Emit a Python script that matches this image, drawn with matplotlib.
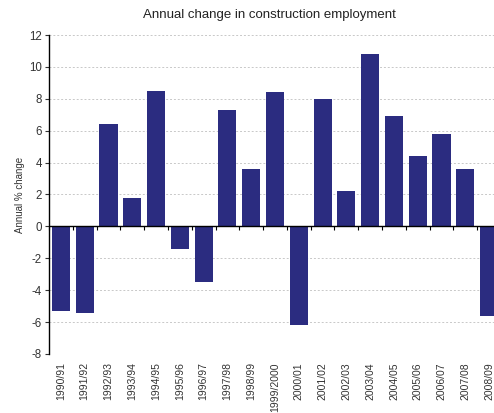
import numpy as np
import matplotlib.pyplot as plt

plt.rcParams['font.family'] = ['Liberation Sans', 'DejaVu Sans']
plt.rcParams['axes.unicode_minus'] = False

# Data
years = ['1990/91', '1991/92', '1992/93', '1993/94', '1994/95', '1995/96', '1996/97',
         '1997/98', '1998/99', '1999/2000', '2000/01', '2001/02', '2002/03', '2003/04',
         '2004/05', '2005/06', '2006/07', '2007/08', '2008/09']
change = [-5.3, -5.4, 6.4, 1.8, 8.5, -1.4, -3.5, 7.3, 3.6, 8.4, -6.2, 8.0, 2.2, 10.8,
          6.9, 4.4, 5.8, 3.6, -5.6]

bar_color = '#2B2C80'
text_color = '#333333'

fig = plt.figure(figsize=(4.94, 4.13), dpi=100)
# axes run past the right edge like the original screenshot
ax = fig.add_axes([49 / 494, 1 - 354 / 413, 452 / 494, 319 / 413])

x = np.arange(len(years))
ax.bar(x, change, width=0.76, color=bar_color, zorder=3)

ax.set_xlim(-0.5, len(years) - 0.5)
ax.set_ylim(-8, 12)
ax.set_yticks(np.arange(-8, 13, 2))
ax.yaxis.grid(True, linestyle=(0, (2, 2)), color='#c8c8c8', linewidth=0.7, zorder=0)
ax.tick_params(axis='y', labelsize=8.3, length=3, width=0.8, pad=2, colors=text_color)
ax.set_ylabel('Annual % change', fontsize=7, color=text_color, labelpad=3)

ax.set_xticks(x)
ax.set_xticklabels(years, rotation=90, fontsize=7.5, color=text_color)
ax.tick_params(axis='x', length=0, pad=6)

for s in ['top', 'right', 'bottom']:
    ax.spines[s].set_visible(False)
ax.spines['left'].set_linewidth(1.0)

# zero line with category boundary ticks
ax.axhline(0, color='black', linewidth=1.0, zorder=4)
sec = ax.secondary_xaxis(0.4)
sec.set_xticks(np.arange(-0.5, len(years), 1.0))
sec.tick_params(axis='x', length=3, width=0.8, labelbottom=False)
sec.spines['bottom'].set_visible(False)

fig.suptitle('Annual change in construction employment', fontsize=9.5,
             x=269 / 494, y=1 - 9 / 413, va='top', color='#222222')

fig.savefig('out.png', dpi=100)
